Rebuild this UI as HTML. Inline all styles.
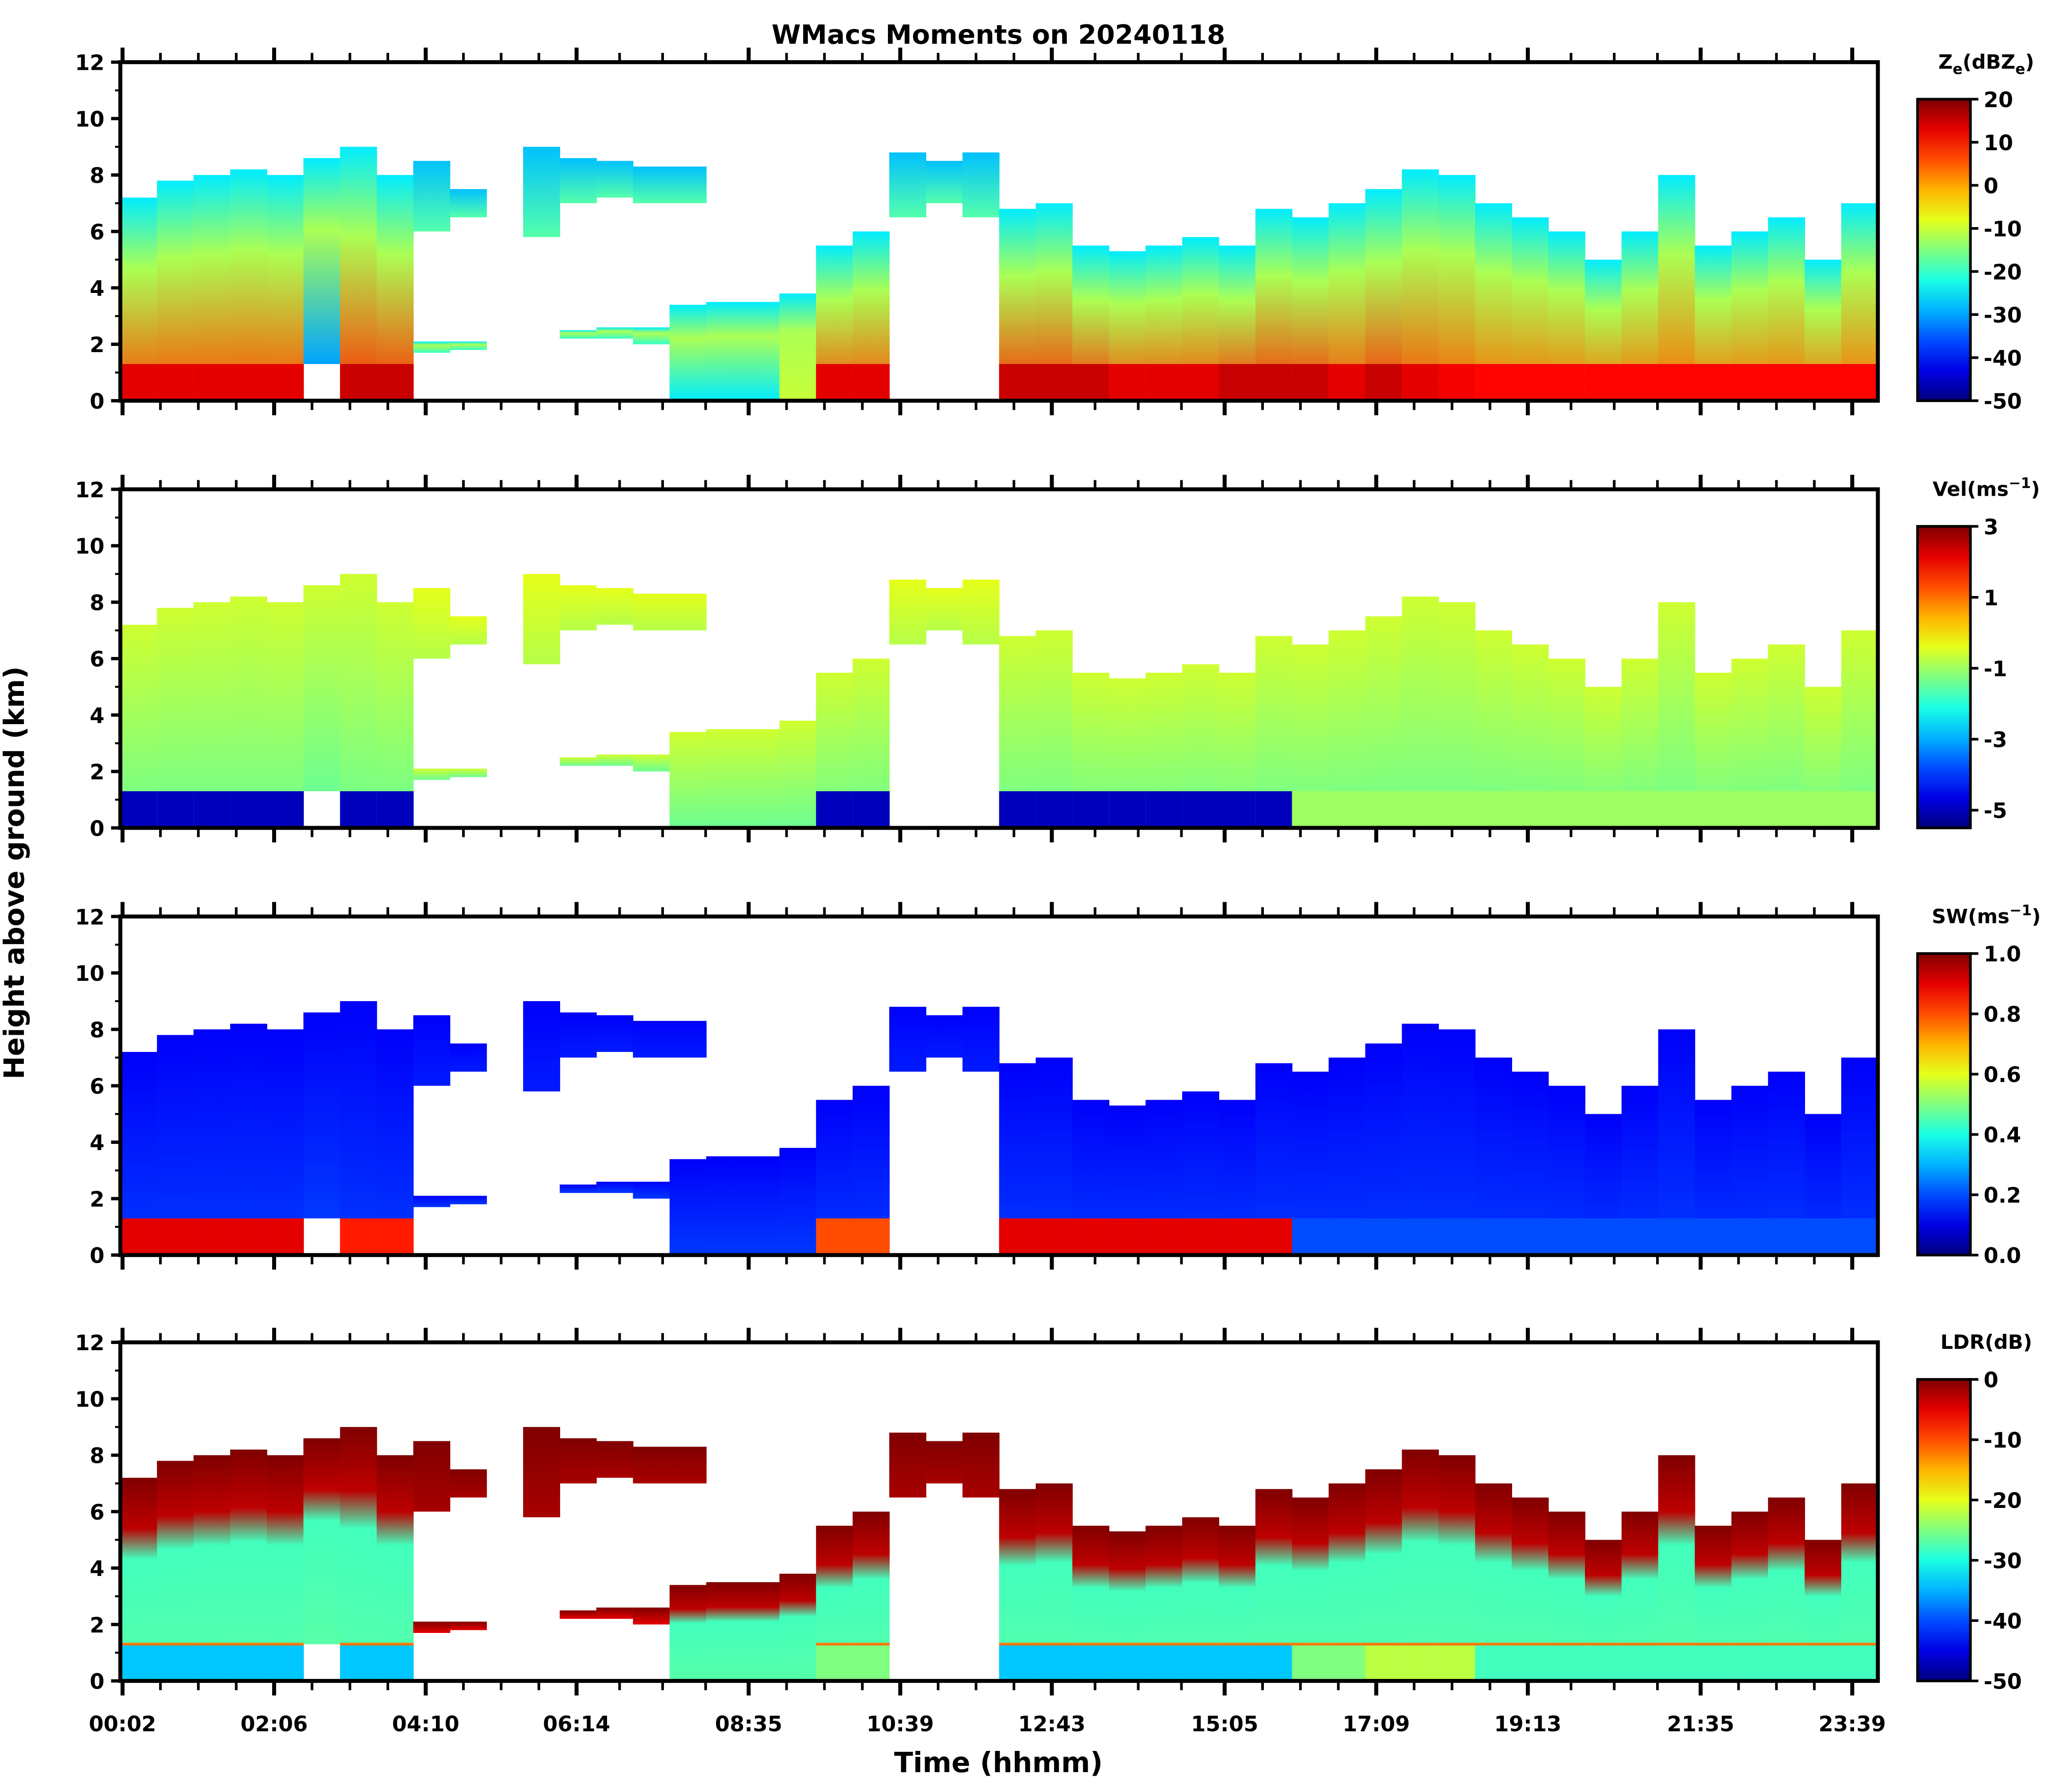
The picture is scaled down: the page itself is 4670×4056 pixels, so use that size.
<!DOCTYPE html>
<html><head><meta charset="utf-8"><style>
html,body{margin:0;padding:0;background:#fff}
svg{display:block}
text{font-family:"DejaVu Sans","Liberation Sans",sans-serif;font-weight:bold;fill:#000}
</style></head><body>
<svg id="chart" xmlns="http://www.w3.org/2000/svg" width="4670" height="4056" viewBox="0 0 1560 1355" preserveAspectRatio="none">
<defs id="defs"></defs>
<text x="755" y="33" font-size="20" text-anchor="middle">WMacs Moments on 20240118</text>
<text x="18" y="660" font-size="21" text-anchor="middle" transform="rotate(-90 18 660)">Height above ground (km)</text>
<text x="755" y="1340" font-size="21" text-anchor="middle">Time (hhmm)</text>
<g id="plots"></g>
</svg>
<script>
const colHours = [0,0.5,1,1.5,2,2.5,3,3.5,4,4.5,5,5.5,6,6.5,7,7.5,8,8.5,9,9.5,10,10.5,11,11.5,12,12.5,13,13.5,14,14.5,15,15.5,16,16.5,17,17.5,18,18.5,19,19.5,20,20.5,21,21.5,22,22.5,23,23.5];
const lowBase = [0,0,0,0,0,1.3,0,0,1.7,1.8,0,0,2.2,2.2,2.0,0,0,0,0,0,0,0,0,0,0,0,0,0,0,0,0,0,0,0,0,0,0,0,0,0,0,0,0,0,0,0,0,0];
const lowTop  = [7.2,7.8,8.0,8.2,8.0,8.6,9.0,8.0,2.1,2.1,0,0,2.5,2.6,2.6,3.4,3.5,3.5,3.8,5.5,6.0,0,0,0,6.8,7.0,5.5,5.3,5.5,5.8,5.5,6.8,6.5,7.0,7.5,8.2,8.0,7.0,6.5,6.0,5.0,6.0,8.0,5.5,6.0,6.5,5.0,7.0];
const upBase = [0,0,0,0,0,0,0,0,6.0,6.5,0,5.8,7.0,7.2,7.0,7.0,0,0,0,0,0,6.5,7.0,6.5,0,0,0,0,0,0,0,0,0,0,0,0,0,0,0,0,0,0,0,0,0,0,0,0];
const upTop  = [0,0,0,0,0,0,0,0,8.5,7.5,0,9.0,8.6,8.5,8.3,8.3,0,0,0,0,0,8.8,8.5,8.8,0,0,0,0,0,0,0,0,0,0,0,0,0,0,0,0,0,0,0,0,0,0,0,0];
const zeLow = [6,6,6,6,6,-30,8,8,-20,-20,0,0,-20,-20,-20,-25,-25,-25,-10,6,6,0,0,0,8,8,8,6,6,6,8,8,8,6,8,6,5,4,4,4,4,4,4,4,4,4,4,4];
const band = [1,1,1,1,1,0,1,1,0,0,0,0,0,0,0,0,0,0,0,1,1,0,0,0,1,1,1,1,1,1,1,1,1,1,1,1,1,1,1,1,1,1,1,1,1,1,1,1];
const bandVel = [-5,-5,-5,-5,-5,0,-5,-5,0,0,0,0,0,0,0,0,0,0,0,-5,-5,0,0,0,-5,-5,-5,-5,-5,-5,-5,-5,-1,-1,-1,-1,-1,-1,-1,-1,-1,-1,-1,-1,-1,-1,-1,-1];
const bandSW = [0.9,0.9,0.9,0.9,0.9,0,0.85,0.85,0,0,0,0,0,0,0,0,0,0,0,0.8,0.8,0,0,0,0.9,0.9,0.9,0.9,0.9,0.9,0.9,0.9,0.2,0.2,0.2,0.2,0.2,0.2,0.2,0.2,0.2,0.2,0.2,0.2,0.2,0.2,0.2,0.2];
const bandLDR = [-34,-34,-34,-34,-34,0,-34,-34,0,0,0,0,0,0,0,0,0,0,0,-25,-25,0,0,0,-34,-34,-34,-34,-34,-34,-34,-34,-25,-25,-22,-22,-22,-28,-28,-28,-28,-28,-28,-28,-28,-28,-28,-28];
const xTickLabels = ["00:02","02:06","04:10","06:14","08:35","10:39","12:43","15:05","17:09","19:13","21:35","23:39"];
const xTickHours = [0.03,2.1,4.17,6.23,8.58,10.65,12.72,15.08,17.15,19.22,21.58,23.65];
const yTicks = [0,2,4,6,8,10,12];

const L=91, R=1420, H=256;
const panels=[
 {top:47, name:"ze", title:["Z","e","(dBZ","e",")"], vmin:-50, vmax:20, ticks:[20,10,0,-10,-20,-30,-40,-50], fmt:v=>String(v)},
 {top:370, name:"vel", title:["Vel(ms","−1",")"], vmin:-5.5, vmax:3, ticks:[3,1,-1,-3,-5], fmt:v=>String(v)},
 {top:693, name:"sw", title:["SW(ms","−1",")"], vmin:0, vmax:1, ticks:[1,0.8,0.6,0.4,0.2,0], fmt:v=>v.toFixed(1)},
 {top:1015, name:"ldr", title:["LDR(dB)"], vmin:-50, vmax:0, ticks:[0,-10,-20,-30,-40,-50], fmt:v=>String(v)}
];
const NS="http://www.w3.org/2000/svg";
const xs=h=>L+h*(R-L)/24;
function jet(t){t=Math.max(0,Math.min(1,t));
 const c=x=>Math.round(255*Math.max(0,Math.min(1,x)));
 return `rgb(${c(1.5-Math.abs(4*t-3))},${c(1.5-Math.abs(4*t-2))},${c(1.5-Math.abs(4*t-1))})`;}
function mk(tag,attrs,parent){const e=document.createElementNS(NS,tag);for(const k in attrs)e.setAttribute(k,attrs[k]);parent.appendChild(e);return e;}
const defs=document.getElementById('defs'), plots=document.getElementById('plots');
let gid=0;
function grad(stops){const id='g'+(gid++);const g=mk('linearGradient',{id:id,x1:0,y1:0,x2:0,y2:1},defs);
 stops.forEach(s=>mk('stop',{offset:s[0],'stop-color':s[1]},g));return 'url(#'+id+')';}

panels.forEach((p,pi)=>{
 const g=mk('g',{},plots);
 
 
 const ys=k=>p.top+(12-k)*H/12;
 const nz=v=>(v-p.vmin)/(p.vmax-p.vmin);
 const col=v=>jet(nz(v));
 colHours.forEach((h,i)=>{
  const x0=xs(h), w=xs(h+0.5)-x0+0.3;
  if(lowTop[i]>lowBase[i]){
   let stops;
   if(p.name==='ze') stops=[[0,col(-25)],[0.35,col(-12)],[1,col(zeLow[i])]];
   else if(p.name==='vel') stops=[[0,col(-0.6)],[1,col(-1.4)]];
   else if(p.name==='sw') stops=[[0,col(0.12)],[1,col(0.18)]];
   else stops=lowTop[i]-lowBase[i]>2?[[0,col(0)],[0.25,col(-3)],[0.4,col(-28)],[1,col(-27)]]:[[0,col(0)],[1,col(-5)]];
   const r=mk('rect',{x:x0,y:ys(lowTop[i]),width:w,height:ys(lowBase[i])-ys(lowTop[i]),fill:grad(stops)},g);
   
   
  }
  if(upTop[i]>upBase[i]){
   let stops;
   if(p.name==='ze') stops=[[0,col(-28)],[1,col(-18)]];
   else if(p.name==='vel') stops=[[0,col(-0.4)],[1,col(-0.8)]];
   else if(p.name==='sw') stops=[[0,col(0.12)],[1,col(0.15)]];
   else stops=[[0,col(0)],[1,col(-2)]];
   const r=mk('rect',{x:x0,y:ys(upTop[i]),width:w,height:ys(upBase[i])-ys(upTop[i]),fill:grad(stops)},g);
   
   
  }
  if(band[i]){
   let v;
   if(p.name==='ze') v=zeLow[i]+7; else if(p.name==='vel') v=bandVel[i]; else if(p.name==='sw') v=bandSW[i]; else v=bandLDR[i];
   const r=mk('rect',{x:x0,y:ys(1.3),width:w,height:ys(0)-ys(1.3),fill:col(v)},g);
   
   
   if(p.name==='ldr'){const ln=mk('rect',{x:x0,y:ys(1.35),width:w,height:2,fill:col(-12)},g);
    
    }
  }
 });
 const fr=mk('rect',{x:L,y:p.top,width:R-L,height:H,fill:'none',stroke:'#000','stroke-width':3},g);
 
 
 yTicks.forEach(k=>{
  mk('line',{x1:L-7,x2:L,y1:ys(k),y2:ys(k),stroke:'#000','stroke-width':2.5},g);
  if(k<12) mk('line',{x1:L-4,x2:L,y1:ys(k+1),y2:ys(k+1),stroke:'#000','stroke-width':1.5},g);
  const t=mk('text',{x:L-12,y:ys(k)+6,'font-size':16,'text-anchor':'end'},g);t.textContent=k;
  
  
 });
 xTickHours.forEach((h,j)=>{
  const x=xs(h);
  mk('line',{x1:x,x2:x,y1:p.top+H,y2:p.top+H+11,stroke:'#000','stroke-width':3},g);
  mk('line',{x1:x,x2:x,y1:p.top,y2:p.top-11,stroke:'#000','stroke-width':3},g);
  if(j<xTickHours.length-1){
   const n=(xTickHours[j+1]-h);
   for(let m=1;m<4;m++){const xm=xs(h+n*m/4);
    mk('line',{x1:xm,x2:xm,y1:p.top+H,y2:p.top+H+7,stroke:'#000','stroke-width':2},g);
    mk('line',{x1:xm,x2:xm,y1:p.top,y2:p.top-7,stroke:'#000','stroke-width':2},g);}
  }
  if(pi===3){const t=mk('text',{x:x,y:p.top+H+38,'font-size':16,'text-anchor':'middle'},g);t.textContent=xTickLabels[j];
   
   }
 });
 const cbTop=p.top+28, cbBot=p.top+H, cbX=1450, cbW=40;
 const cs=[];for(let s=0;s<=10;s++)cs.push([s/10,jet(1-s/10)]);
 const cb=mk('rect',{x:cbX,y:cbTop,width:cbW,height:cbBot-cbTop,fill:grad(cs),stroke:'#000','stroke-width':2},g);
 
 
 p.ticks.forEach(v=>{
  const y=cbBot-(v-p.vmin)/(p.vmax-p.vmin)*(cbBot-cbTop);
  mk('line',{x1:cbX+cbW,x2:cbX+cbW+6,y1:y,y2:y,stroke:'#000','stroke-width':2},g);
  const t=mk('text',{x:cbX+cbW+10,y:y+6,'font-size':16},g);t.textContent=p.fmt(v);
  
  
 });
 const tt=mk('text',{x:1502,y:p.top+5,'font-size':15,'text-anchor':'middle'},g);
 
 
 p.title.forEach((s,k)=>{const ts=mk('tspan',{},tt);ts.textContent=s;
  if(p.name==='ze'&&(k===1||k===3)){ts.setAttribute('font-size',11);ts.setAttribute('dy',4);}
  else if(p.name==='ze'&&(k===2||k===4)){ts.setAttribute('dy',-4);}
  else if(s==='−1'){ts.setAttribute('font-size',11);ts.setAttribute('dy',-6);}
  else if(k===2){ts.setAttribute('dy',6);}
 });
});
</script>
</body></html>
